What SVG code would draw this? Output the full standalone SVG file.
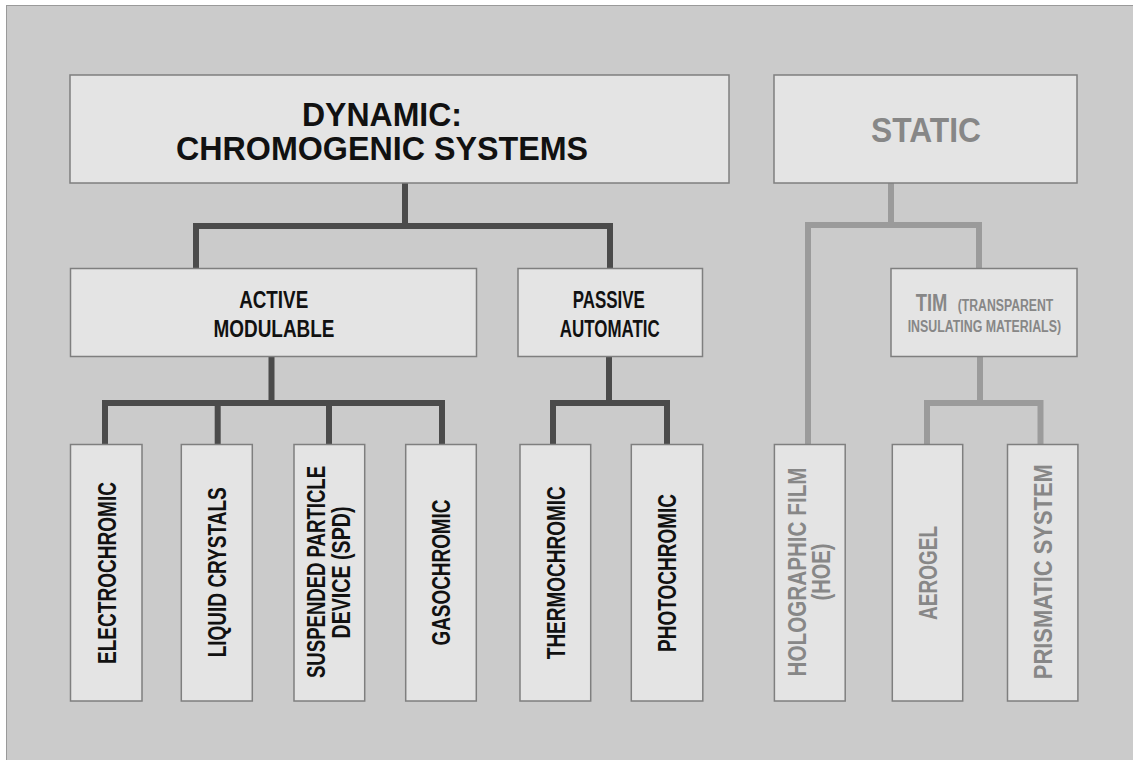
<svg xmlns="http://www.w3.org/2000/svg" width="1133" height="760" viewBox="0 0 1133 760">
<style>
.box{fill:#e4e4e4;stroke:#7f7f7f;stroke-width:1.5}
.t{font-family:"Liberation Sans Narrow","Liberation Sans",Arial,sans-serif;font-weight:bold;text-anchor:middle}
.k{fill:#111111}
.g{fill:#878787}
.dk{fill:none;stroke:#4b4b4b;stroke-width:6;stroke-linejoin:miter;stroke-linecap:butt}
.lt{fill:none;stroke:#9b9b9b;stroke-width:6;stroke-linejoin:miter;stroke-linecap:butt}
.v{font-size:26px}
</style>
<rect x="0" y="0" width="1133" height="760" fill="#ffffff"/>
<rect x="6.5" y="5.5" width="1140" height="770" fill="#cbcbcb" stroke="#9a9a9a" stroke-width="1"/>

<g id="connectors">
  <path class="dk" d="M405,183 V226 M196,268 V226 H610 V268"/>
  <path class="dk" d="M271.5,357 V403 M105,444 V403 H442 V444 M217.7,403 V444 M329,403 V444"/>
  <path class="dk" d="M609,357 V403 M553,444 V403 H667 V444"/>
  <path class="lt" d="M891,183 V225 M808,444 V225 H979 V268"/>
  <path class="lt" d="M980,357 V403 M927,444 V403 H1040.5 V444"/>
</g>

<g id="dynamic">
  <rect class="box" x="70" y="75" width="659" height="108"/>
  <text class="t k" x="382" y="126" font-size="33" textLength="160" lengthAdjust="spacingAndGlyphs">DYNAMIC:</text>
  <text class="t k" x="382" y="160" font-size="33" textLength="412" lengthAdjust="spacingAndGlyphs">CHROMOGENIC SYSTEMS</text>
</g>

<g id="static">
  <rect class="box" x="774" y="75" width="303" height="108"/>
  <text class="t g" x="926" y="142" font-size="35" textLength="110" lengthAdjust="spacingAndGlyphs">STATIC</text>
</g>

<g id="active">
  <rect class="box" x="70.5" y="268.5" width="406" height="88"/>
  <text class="t k" x="273.7" y="307.7" font-size="24" textLength="69" lengthAdjust="spacingAndGlyphs">ACTIVE</text>
  <text class="t k" x="274" y="336.7" font-size="24" textLength="121" lengthAdjust="spacingAndGlyphs">MODULABLE</text>
</g>

<g id="passive">
  <rect class="box" x="518" y="268.5" width="184.5" height="88"/>
  <text class="t k" x="608.8" y="307.7" font-size="24" textLength="72" lengthAdjust="spacingAndGlyphs">PASSIVE</text>
  <text class="t k" x="609.8" y="336.7" font-size="24" textLength="100" lengthAdjust="spacingAndGlyphs">AUTOMATIC</text>
</g>

<g id="tim">
  <rect class="box" x="891" y="268.5" width="186" height="88"/>
  <text class="t g" x="915.7" y="310.7" font-size="24" text-anchor="start" style="text-anchor:start" textLength="31.6" lengthAdjust="spacingAndGlyphs">TIM</text>
  <text class="t g" x="957.7" y="310.7" font-size="16" style="text-anchor:start" textLength="95.6" lengthAdjust="spacingAndGlyphs">(TRANSPARENT</text>
  <text class="t g" x="907.7" y="331.7" font-size="16" style="text-anchor:start" textLength="153.3" lengthAdjust="spacingAndGlyphs">INSULATING MATERIALS)</text>
</g>

<g id="electrochromic">
  <rect class="box" x="70.5" y="444.5" width="71.5" height="256.5"/>
  <text class="t k v" x="106.3" y="582.3" transform="rotate(-90 106.3 573)" textLength="182" lengthAdjust="spacingAndGlyphs">ELECTROCHROMIC</text>
</g>

<g id="liquid-crystals">
  <rect class="box" x="181.3" y="444.5" width="71" height="256.5"/>
  <text class="t k v" x="216.4" y="581.6" transform="rotate(-90 216.4 572.3)" textLength="170" lengthAdjust="spacingAndGlyphs">LIQUID CRYSTALS</text>
</g>

<g id="spd">
  <rect class="box" x="294" y="444.5" width="70.7" height="256.5"/>
  <text class="t k v" x="316" y="581.3" transform="rotate(-90 316 572)" textLength="212" lengthAdjust="spacingAndGlyphs">SUSPENDED PARTICLE</text>
  <text class="t k v" x="340.5" y="581.8" transform="rotate(-90 340.5 572.5)" textLength="132" lengthAdjust="spacingAndGlyphs">DEVICE (SPD)</text>
</g>

<g id="gasochromic">
  <rect class="box" x="405.7" y="444.5" width="70.6" height="256.5"/>
  <text class="t k v" x="441" y="581.8" transform="rotate(-90 441 572.5)" textLength="146" lengthAdjust="spacingAndGlyphs">GASOCHROMIC</text>
</g>

<g id="thermochromic">
  <rect class="box" x="520" y="444.5" width="70.7" height="256.5"/>
  <text class="t k v" x="555.5" y="582" transform="rotate(-90 555.5 572.7)" textLength="173" lengthAdjust="spacingAndGlyphs">THERMOCHROMIC</text>
</g>

<g id="photochromic">
  <rect class="box" x="631.3" y="444.5" width="71.5" height="256.5"/>
  <text class="t k v" x="667" y="582.3" transform="rotate(-90 667 573)" textLength="158" lengthAdjust="spacingAndGlyphs">PHOTOCHROMIC</text>
</g>

<g id="holographic">
  <rect class="box" x="774.4" y="444.5" width="70.8" height="256.5"/>
  <text class="t g v" x="796.5" y="581.3" transform="rotate(-90 796.5 572)" textLength="209" lengthAdjust="spacingAndGlyphs">HOLOGRAPHIC FILM</text>
  <text class="t g v" x="820.5" y="581.3" transform="rotate(-90 820.5 572)" textLength="57" lengthAdjust="spacingAndGlyphs">(HOE)</text>
</g>

<g id="aerogel">
  <rect class="box" x="892.3" y="444.5" width="70.4" height="256.5"/>
  <text class="t g v" x="928" y="582.3" transform="rotate(-90 928 573)" textLength="94" lengthAdjust="spacingAndGlyphs">AEROGEL</text>
</g>

<g id="prismatic">
  <rect class="box" x="1007.5" y="444.5" width="70.4" height="256.5"/>
  <text class="t g v" x="1043" y="581" transform="rotate(-90 1043 571.7)" textLength="215" lengthAdjust="spacingAndGlyphs">PRISMATIC SYSTEM</text>
</g>
</svg>
